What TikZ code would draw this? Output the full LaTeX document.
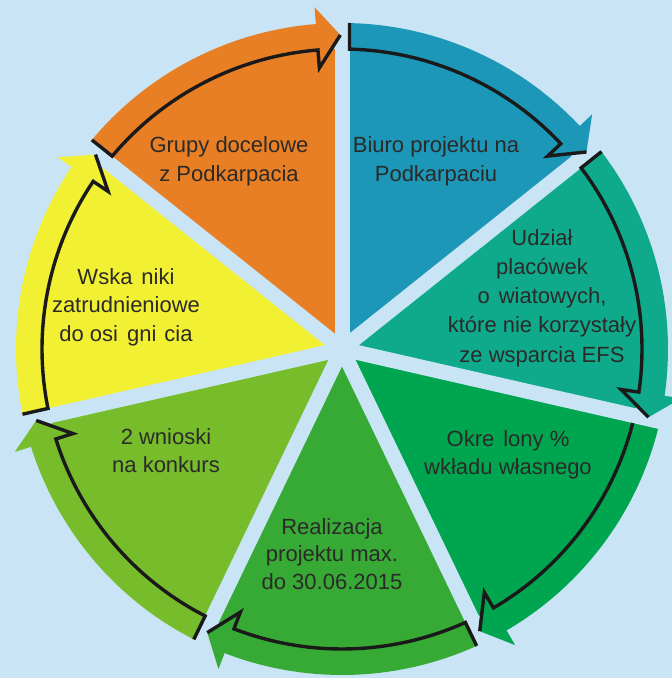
\documentclass[tikz,border=0pt]{standalone}
\usepackage{fontspec}
\setmainfont{Liberation Sans}
\usetikzlibrary{calc}
\definecolor{bgc}{HTML}{C9E4F5}
\definecolor{cor}{HTML}{E97F25}
\definecolor{cbl}{HTML}{1C97B7}
\definecolor{cte}{HTML}{0FAA8B}
\definecolor{cdg}{HTML}{00A54F}
\definecolor{cgr}{HTML}{37AA36}
\definecolor{clg}{HTML}{77BD2B}
\definecolor{cye}{HTML}{F2F032}
\definecolor{txt}{HTML}{2B2A29}
\definecolor{rimc}{HTML}{1A1A1A}
\tikzset{
  lbl/.style={text=txt, align=center, anchor=north, inner sep=0pt, font=\fontsize{22}{28.5}\selectfont},
  gapline/.style={draw=bgc, line width=15pt},
  rim/.style={draw=rimc, line width=3.4pt}
}
\begin{document}
\begin{tikzpicture}[x=1pt,y=1pt]
\useasboundingbox (0,0) rectangle (672,678);
\fill[bgc] (0,0) rectangle (672,678);
\coordinate (C) at (342,329);
% sectors: wedge + band
\foreach \k/\col in {0/cor,1/cbl,2/cte,3/cdg,4/cgr,5/clg,6/cye}{
  \pgfmathsetmacro\ge{90-\k*360/7}
  \pgfmathsetmacro\gs{\ge+360/7}
  \pgfmathsetmacro\bb{\ge+4.5}
  \fill[\col] (C) -- ($(C)+(\ge:300pt)$) arc[start angle=\ge, end angle=\gs, radius=300pt] -- cycle;
  \fill[\col] ($(C)+(\bb:300pt)$) arc[start angle=\bb, end angle=\gs, radius=300pt]
     -- ($(C)+(\gs:326pt)$) arc[start angle=\gs, end angle=\bb, radius=326pt] -- cycle;
}
% gaps
\foreach \k in {0,...,6}{
  \pgfmathsetmacro\g{90-\k*360/7}
  \draw[gapline] (C) -- ($(C)+(\g:360pt)$);
}
% arrow heads and black strokes
\foreach \k/\col/\tl in {0/cor/1,1/cbl/1,2/cte/1,3/cdg/0,4/cgr/1,5/clg/1,6/cye/1}{
  \pgfmathsetmacro\ge{90-\k*360/7}
  \pgfmathsetmacro\gs{\ge+360/7}
  \pgfmathsetmacro\bb{\ge+4.6}
  \pgfmathsetmacro\tp{\ge+0.3}
  \pgfmathsetmacro\nn{\gs-90}
  \pgfmathsetmacro\as{\gs-1.43}
  \fill[\col] ($(C)+(\bb:343pt)$) -- ($(C)+(\tp:314pt)$) -- ($(C)+(\bb:282pt)$) -- cycle;
  \ifnum\tl=1
    \draw[rim] ($(C)+(\gs:326pt)+(\nn:7.5pt)$) -- ($(C)+(\as:300pt)$)
      arc[start angle=\as, end angle=\bb, radius=300pt]
      -- ($(C)+(\bb:282pt)$) -- ($(C)+(\tp:314pt)$);
  \else
    \draw[rim] ($(C)+(\as:300pt)$)
      arc[start angle=\as, end angle=\bb, radius=300pt]
      -- ($(C)+(\bb:282pt)$) -- ($(C)+(\tp:314pt)$);
  \fi
}
% labels
\node[lbl] (t1) at (229,541.6) {Grupy docelowe\\z Podkarpacia};
\node[lbl] (t2) at (436,541.6) {Biuro projektu na\\Podkarpaciu};
\node[lbl, font=\fontsize{22}{29.2}\selectfont] (t3) at (542,448.9) {Udział\\placówek\\o\hspace{9pt}wiatowych,\\które nie korzystały\\ze wsparcia EFS};
\node[lbl] (t4) at (508,248) {Okre\hspace{9pt}lony \%\\wkładu własnego};
\node[lbl, font=\fontsize{22}{27.5}\selectfont] (t5) at (332,160) {Realizacja\\projektu max.\\do 30.06.2015};
\node[lbl] (t6) at (166,250) {2 wnioski\\na konkurs};
\node[lbl] (t7) at (126,410) {Wska\hspace{9pt}niki\\zatrudnieniowe\\do osi\hspace{9pt}gni\hspace{8pt}cia};
\end{tikzpicture}
\end{document}
